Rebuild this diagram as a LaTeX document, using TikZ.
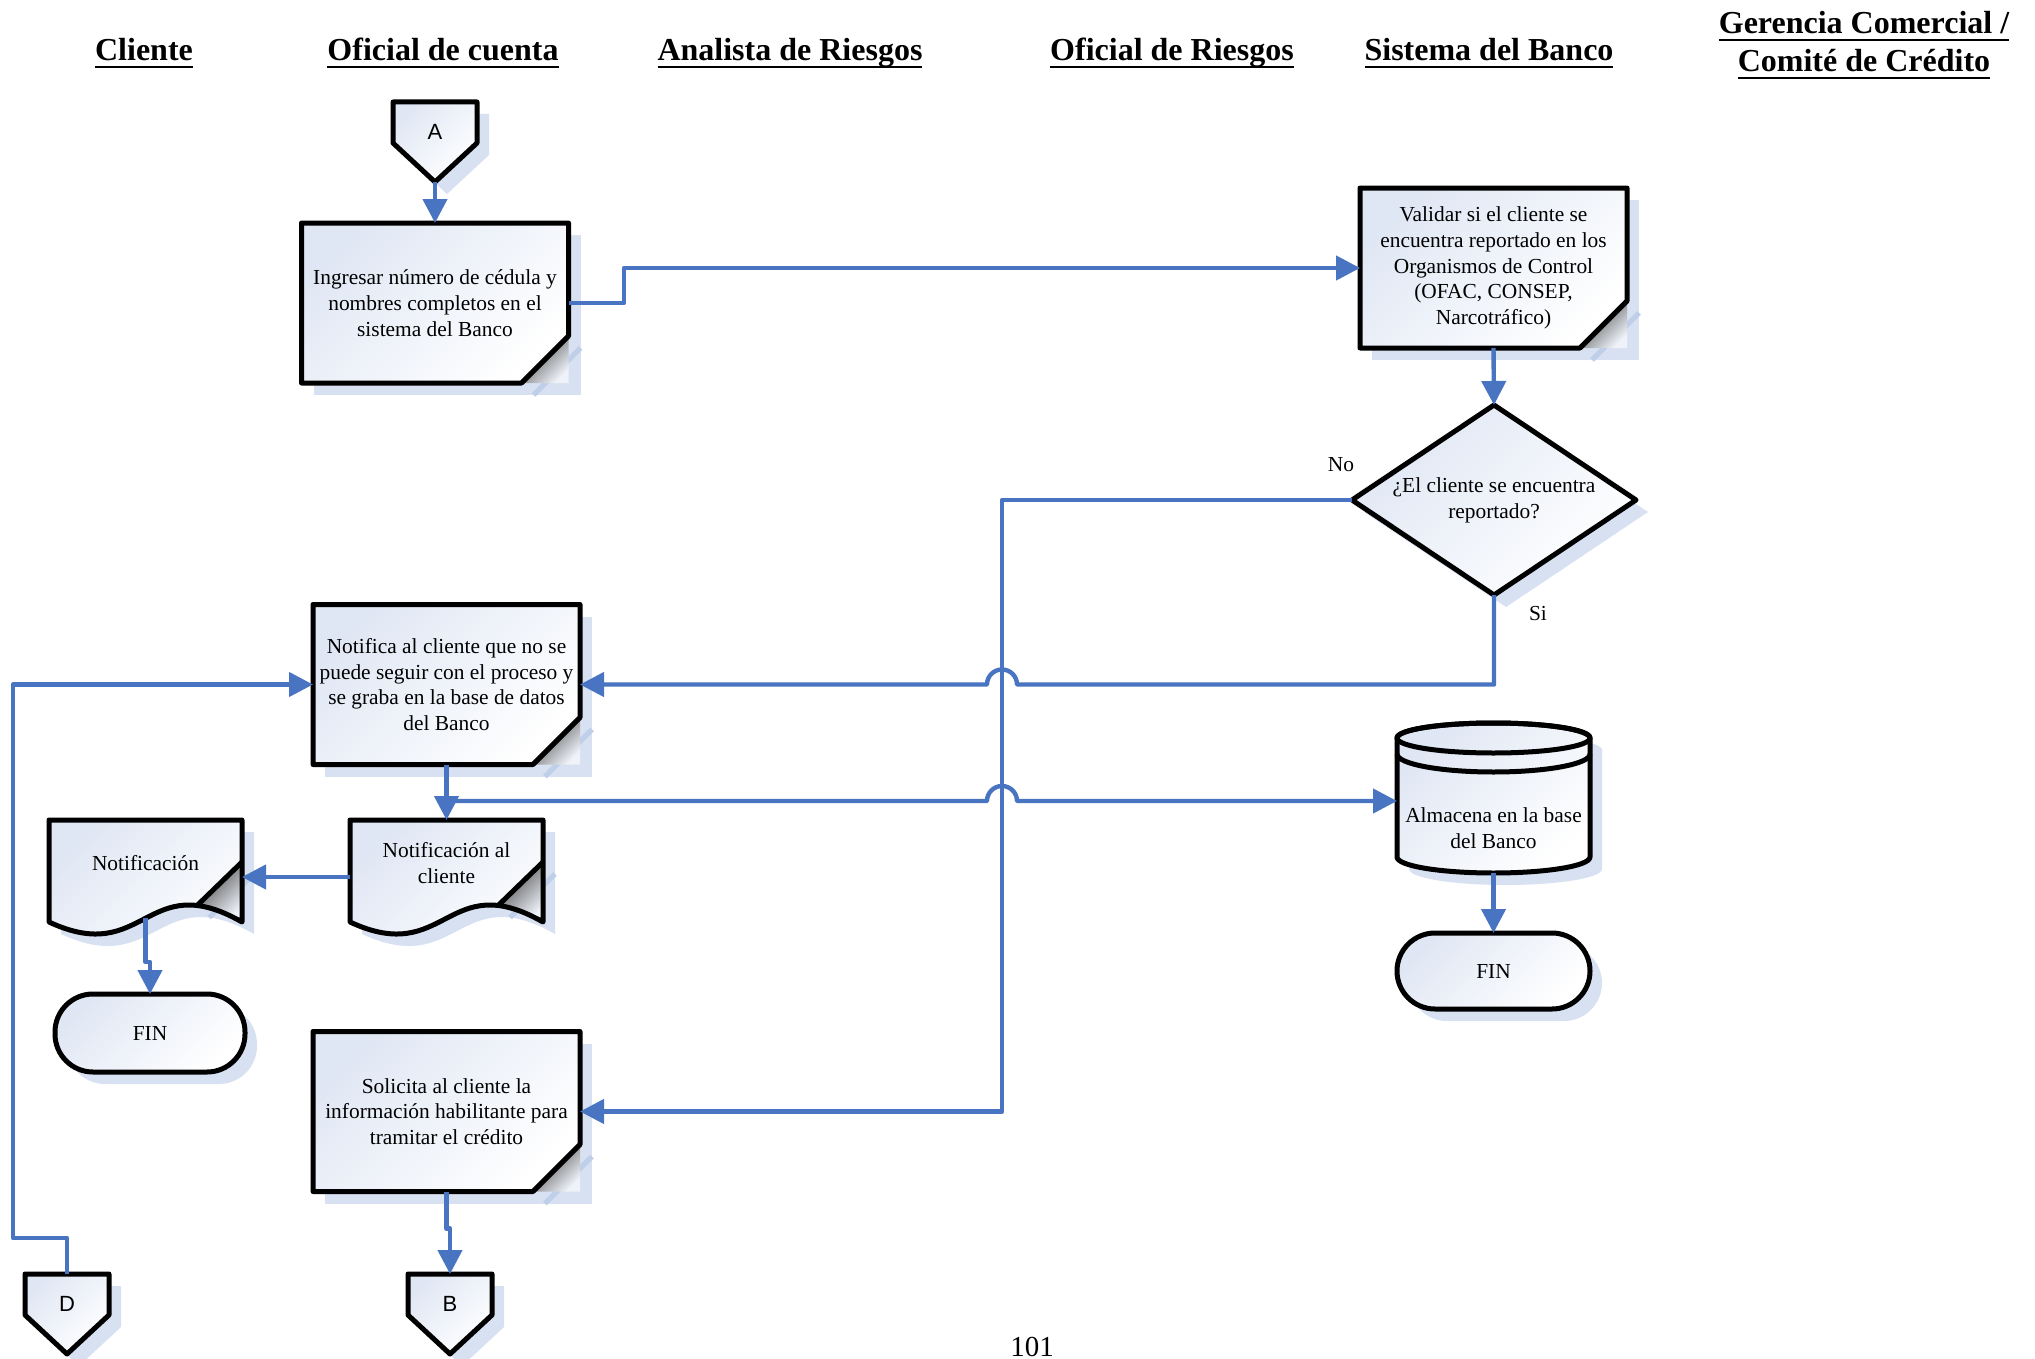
\documentclass[tikz,border=0pt]{standalone}
\usepackage{fontspec}
\setmainfont{Liberation Serif}
\newfontfamily\connfont{Liberation Sans}
\usetikzlibrary{arrows.meta}

\pgfdeclarelayer{paper}
\pgfdeclarelayer{shadowlayer}
\pgfdeclarelayer{shapelayer}
\pgfsetlayers{paper,shadowlayer,shapelayer,main}

\definecolor{flowblue}{HTML}{4874C1}
\definecolor{shadowblue}{HTML}{D7E1F1}
\definecolor{fillblue}{HTML}{E0E7F4}

\newcommand\flowtext{\fontsize{10.7pt}{12.85pt}\selectfont}
\newcommand\headtext{\fontsize{16pt}{19pt}\selectfont\bfseries}
\newcommand\lettertext{\connfont\fontsize{11pt}{13pt}\selectfont}
\newcommand\headul[1]{\setbox0\hbox{#1}\rlap{\rule[-3.6pt]{\wd0}{1.2pt}}\box0}

\tikzset{
  flow/.style={draw=flowblue, line width=2.2pt, line join=round},
  flowarrow/.style={flow, -{Triangle[length=12pt,width=12pt]}},
  outline/.style={draw=black, line width=2.5pt, line join=round},
  bodyfill/.style={top color=fillblue, bottom color=white, shading angle=45},
  foldfill/.style={top color=black!75, middle color=black!55, bottom color=shadowblue!40!white, shading angle=45},
  castshadow/.style={fill=shadowblue},
  foldshadow/.style={draw=flowblue!35, line width=2.5pt},
  holder/.style 2 args={minimum width=#1, minimum height=#2, inner sep=0pt, outer sep=0pt},
  proc/.style={holder={133.5pt}{80pt}, align=center, font=\flowtext},
  doc/.style={holder={96.5pt}{43pt}, align=center, font=\flowtext},
  term/.style 2 args={holder={#1}{#2}, font=\flowtext},
  pent/.style={holder={42pt}{40pt}},
  head/.style={font=\headtext, inner sep=0pt, align=center}
}

% process box with a folded lower right corner
\newcommand\procshape[1]{%
  \begin{pgfonlayer}{shadowlayer}
    \fill[castshadow] ([shift={(6pt,-6pt)}]#1.north west) rectangle ([shift={(6pt,-6pt)}]#1.south east);
    \draw[foldshadow] ([shift={(6pt,17.5pt)}]#1.south east) -- ([shift={(-17.5pt,-6pt)}]#1.south east);
  \end{pgfonlayer}
  \begin{pgfonlayer}{shapelayer}
    \shade[bodyfill] (#1.north west) -- (#1.north east) -- ([yshift=23.5pt]#1.south east)
      -- ([xshift=-23.5pt]#1.south east) -- (#1.south west) -- cycle;
    \shade[foldfill] ([yshift=23.5pt]#1.south east) -- (#1.south east) -- ([xshift=-23.5pt]#1.south east) -- cycle;
    \draw[outline] ([yshift=23.5pt]#1.south east) -- (#1.north east) -- (#1.north west)
      -- (#1.south west) -- ([xshift=-23.5pt]#1.south east) -- cycle;
  \end{pgfonlayer}}

% document shape with wavy bottom and folded corner
\newcommand\docshape[1]{%
  \begin{pgfonlayer}{shadowlayer}
    \begin{scope}[shift={(#1.north west)}, xshift=6pt, yshift=-6pt]
      \fill[castshadow] (0,0) -- (193,0) -- (193,102) .. controls (96.5,47) and (96.5,147) .. (0,102) -- cycle;
      \draw[foldshadow] (193,42) -- (148.1,85.5);
    \end{scope}
  \end{pgfonlayer}
  \begin{pgfonlayer}{shapelayer}
    \begin{scope}[shift={(#1.north west)}]
      \shade[bodyfill] (0,0) -- (193,0) -- (193,102) .. controls (96.5,47) and (96.5,147) .. (0,102) -- cycle;
      \shade[foldfill] (193,42) -- (148.1,85.5) .. controls (160.6,87) and (175.2,91.8) .. (193,102) -- cycle;
      \draw[outline] (0,0) -- (193,0) -- (193,102) .. controls (96.5,47) and (96.5,147) .. (0,102) -- cycle;
      \draw[outline] (193,42) -- (148.1,85.5);
    \end{scope}
  \end{pgfonlayer}}

% database cylinder
\newcommand\cylshape[1]{%
  \begin{pgfonlayer}{shadowlayer}
    \begin{scope}[shift={(#1.south west)}, yshift=75pt, xshift=6pt, yshift=-6pt]
      \fill[castshadow] (0,15) -- (0,134) arc[start angle=180, end angle=0, x radius=96.5, y radius=16]
        -- (193,15) arc[start angle=0, end angle=-180, x radius=96.5, y radius=15] -- cycle;
    \end{scope}
  \end{pgfonlayer}
  \begin{pgfonlayer}{shapelayer}
    \begin{scope}[shift={(#1.south west)}, yshift=75pt]
      \shade[bodyfill] (0,15) -- (0,134) arc[start angle=180, end angle=0, x radius=96.5, y radius=16]
        -- (193,15) arc[start angle=0, end angle=-180, x radius=96.5, y radius=15] -- cycle;
      \draw[outline] (0,15) -- (0,134) arc[start angle=180, end angle=0, x radius=96.5, y radius=16]
        -- (193,15) arc[start angle=0, end angle=-180, x radius=96.5, y radius=15] -- cycle;
      \draw[outline] (96.5,15) ellipse[x radius=96.5, y radius=15];
      \draw[outline] (0,31) arc[start angle=180, end angle=0, x radius=96.5, y radius=18];
    \end{scope}
  \end{pgfonlayer}}

% off-page connector
\newcommand\penshape[1]{%
  \begin{pgfonlayer}{shadowlayer}
    \begin{scope}[shift={(#1.north west)}, xshift=6pt, yshift=-6pt]
      \fill[castshadow] (0,0) -- (84,0) -- (84,41) -- (42,80) -- (0,41) -- cycle;
    \end{scope}
  \end{pgfonlayer}
  \begin{pgfonlayer}{shapelayer}
    \begin{scope}[shift={(#1.north west)}]
      \shade[bodyfill] (0,0) -- (84,0) -- (84,41) -- (42,80) -- (0,41) -- cycle;
      \draw[outline] (0,0) -- (84,0) -- (84,41) -- (42,80) -- (0,41) -- cycle;
    \end{scope}
  \end{pgfonlayer}}

% terminator
\newcommand\termshape[1]{%
  \begin{pgfonlayer}{shadowlayer}
    \fill[castshadow, rounded corners=19pt] ([shift={(6pt,-6pt)}]#1.north west) rectangle ([shift={(6pt,-6pt)}]#1.south east);
  \end{pgfonlayer}
  \begin{pgfonlayer}{shapelayer}
    \shade[bodyfill, rounded corners=19pt] (#1.north west) rectangle (#1.south east);
    \draw[outline, rounded corners=19pt] (#1.north west) rectangle (#1.south east);
  \end{pgfonlayer}}

% decision
\newcommand\decshape[1]{%
  \begin{pgfonlayer}{shadowlayer}
    \fill[castshadow] ([shift={(6pt,-6pt)}]#1.north) -- ([shift={(6pt,-6pt)}]#1.east)
      -- ([shift={(6pt,-6pt)}]#1.south) -- ([shift={(6pt,-6pt)}]#1.west) -- cycle;
  \end{pgfonlayer}
  \begin{pgfonlayer}{shapelayer}
    \shade[bodyfill] (#1.north) -- (#1.east) -- (#1.south) -- (#1.west) -- cycle;
    \draw[outline] (#1.north) -- (#1.east) -- (#1.south) -- (#1.west) -- cycle;
  \end{pgfonlayer}}

\begin{document}
\begin{tikzpicture}[x=0.5pt, y=-0.5pt]
\useasboundingbox (0,0) rectangle (2035,1359);
\begin{pgfonlayer}{paper}
  \fill[white] (0,0) rectangle (2035,1359);
\end{pgfonlayer}

% lane headings
\node[head, anchor=base] (hcliente) at (144,61) {\headul{Cliente}};
\node[head, anchor=base] (hoficial) at (443,61) {\headul{Oficial de cuenta}};
\node[head, anchor=base] (hanalista) at (790,61) {\headul{Analista de Riesgos}};
\node[head, anchor=base] (hriesgos) at (1172,61) {\headul{Oficial de Riesgos}};
\node[head, anchor=base] (hsistema) at (1489,61) {\headul{Sistema del Banco}};
\node[head, anchor=base] (hgerencia) at (1864,72) {\headul{Gerencia Comercial /}\\\headul{Comité de Crédito}};

% flow elements
\node[pent] (conA) at (435,142) {};
\node[proc] (ingresar) at (435,303) {Ingresar número de cédula y\\nombres completos en el\\sistema del Banco};
\node[proc] (validar) at (1493.5,268) {Validar si el cliente se\\encuentra reportado en los\\Organismos de Control\\(OFAC, CONSEP,\\Narcotráfico)};
\node[holder={142pt}{95pt}, align=center, font=\flowtext] (dia) at (1494,500) {¿El cliente se encuentra\\reportado?};
\node[proc] (notifica) at (446.5,684.5) {Notifica al cliente que no se\\puede seguir con el proceso y\\se graba en la base de datos\\del Banco};
\node[doc] (notif) at (145.5,863) {Notificación};
\node[doc] (notifcli) at (446.5,863) {Notificación al\\cliente};
\node[holder={96.5pt}{45pt}, align=center, font=\flowtext] (almacena) at (1493.5,828) {Almacena en la base\\del Banco};
\node[term={95pt}{39pt}] (finL) at (150,1033) {FIN};
\node[term={96.5pt}{38pt}] (finR) at (1493.5,971) {FIN};
\node[proc] (solicita) at (446.5,1111.5) {Solicita al cliente la\\información habilitante para\\tramitar el crédito};
\node[pent] (conD) at (67,1314) {};
\node[pent] (conB) at (450,1314) {};

\node[font=\lettertext] (conAtxt) at ([yshift=-15pt]conA.north) {A};
\node[font=\lettertext] (conDtxt) at ([yshift=-15pt]conD.north) {D};
\node[font=\lettertext] (conBtxt) at ([yshift=-15pt]conB.north) {B};

\node[font=\flowtext] (lblno) at (1341,465) {No};
\node[font=\flowtext] (lblsi) at (1538,614) {Si};

\node[font=\fontsize{14.5pt}{16pt}\selectfont, anchor=base] (pagenum) at (1032,1356) {101};

% shapes
\penshape{conA}
\procshape{ingresar}
\procshape{validar}
\decshape{dia}
\procshape{notifica}
\docshape{notif}
\docshape{notifcli}
\cylshape{almacena}
\termshape{finL}
\termshape{finR}
\procshape{solicita}
\penshape{conD}
\penshape{conB}

% connectors
\coordinate (bendA) at (624,303);
\coordinate (nobend) at (1002,500);
\coordinate (sihop) at (1017,684.5);
\coordinate (split) at (446.5,801);
\coordinate (bdhop) at (987,801);
\coordinate (dturn) at (13,1238);

\draw[flowarrow] (conA.south) -- (ingresar.north);
\draw[flowarrow] (ingresar.east) -- (bendA) |- (validar.west);
\draw[flowarrow] (validar.south) -- (dia.north);
\draw[flowarrow] (dia.west) -- (nobend) |- (solicita.east);
\draw[flowarrow] (dia.south) |- (sihop) arc[start angle=0, end angle=-180, radius=15] -- (notifica.east);
\draw[flowarrow] (notifica.south) -- (notifcli.north);
\draw[flowarrow] (split) -- (bdhop) arc[start angle=180, end angle=360, radius=15] -- (almacena.west |- split);
\draw[flowarrow] ([yshift=-7pt]notifcli.west) -- ([yshift=-7pt]notif.east);
\draw[flowarrow] ([yshift=-6pt]notif.south) -- ++(0,44) -| (finL.north);
\draw[flowarrow] (almacena.south) -- (finR.north);
\draw[flowarrow] (solicita.south) -- ++(0,37) -| (conB.north);
\draw[flowarrow] (conD.north) |- (dturn) |- (notifica.west);
\end{tikzpicture}
\end{document}
